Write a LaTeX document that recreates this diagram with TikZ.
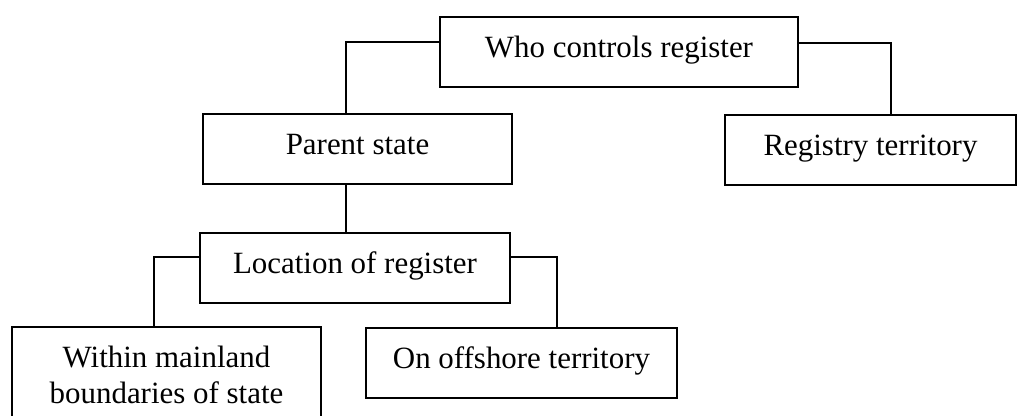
\documentclass[tikz,border=0pt]{standalone}
\usepackage{fontspec}
\setmainfont{Liberation Serif}
\usetikzlibrary{calc}

\begin{document}
\begin{tikzpicture}[
        x={(0.0125cm,0cm)},
        y={(0cm,-0.0125cm)},
        box/.style={shape=rectangle, draw, line width=0.7pt, inner xsep=0pt, inner ysep=0pt,
                    text height=0.5cm, text depth=0.375cm, font=\fontsize{11}{12.8}\selectfont},
        tallbox/.style={box, align=center, text height={}, text depth={}, inner ysep=0.2375cm},
        link/.style={line width=0.7pt},
        ]
        \path[use as bounding box, clip] (0,0) rectangle (1018,415);

        \node(who)     [box, minimum width=4.475cm]  at (619,52)    {Who controls register};
        \node(parent)  [box, minimum width=3.8625cm] at (357.5,149) {Parent state};
        \node(registry)[box, minimum width=3.6375cm] at (870.5,150) {Registry territory};
        \node(location)[box, minimum width=3.875cm]  at (355,268)   {Location of register};
        \node(offshore)[box, minimum width=3.8875cm] at (521.5,363) {On offshore territory};
        \node(within)  [tallbox, minimum width=3.8625cm, anchor=north] at (166.5,326)
                       {Within mainland\\boundaries of state};

        % knees of the connectors
        \coordinate(k1) at (346,42);
        \coordinate(k2) at (891,43);
        \coordinate(k3) at (154,257);
        \coordinate(k4) at (557,257);

        \draw[link](who.west |- k1) -| (k1 |- parent.north);
        \draw[link](who.east |- k2) -| (k2 |- registry.north);
        \draw[link](k1 |- parent.south) -- (k1 |- location.north);
        \draw[link](location.west |- k3) -| (k3 |- within.north);
        \draw[link](location.east |- k4) -| (k4 |- offshore.north);
\end{tikzpicture}
\end{document}
